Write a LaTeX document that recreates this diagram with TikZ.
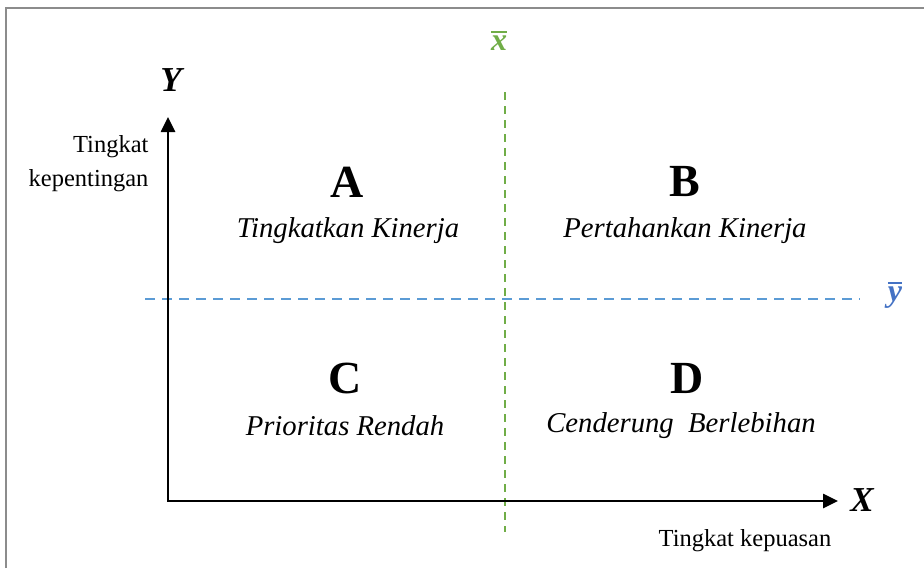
\documentclass[tikz,border=0pt]{standalone}
\usepackage{fontspec}
\setmainfont{Liberation Serif}
\usetikzlibrary{arrows.meta}
\definecolor{xgreen}{HTML}{70AD47}
\definecolor{yblue}{HTML}{5B9BD5}
\definecolor{ybluedark}{HTML}{4472C4}
\definecolor{framegray}{HTML}{8C8C8C}
\newcommand{\barred}[1]{\vbox{\hrule height 1.8pt\kern 3pt\hbox{#1}}}
\tikzset{
  quad/.style={font=\fontsize{46}{48}\selectfont\bfseries},
  quadtext/.style={font=\fontsize{28.7}{32}\selectfont\itshape},
  small/.style={font=\fontsize{24.5}{34}\selectfont},
  axislbl/.style={font=\fontsize{35}{36}\selectfont\bfseries\itshape},
  barlbl/.style={font=\fontsize{32}{34}\selectfont\bfseries\itshape, inner sep=0pt},
  axisline/.style={line width=2.6pt, line join=miter, {Triangle[length=15pt,width=14pt]}-{Triangle[length=15pt,width=14pt]}},
}
\begin{document}
\begin{tikzpicture}[x=1pt,y=-1pt]
\useasboundingbox (0,0) rectangle (924,568);
\draw[framegray, line width=1.6pt] (6,568) -- (6,8) -- (924,8);
% mean lines
\coordinate (gtop) at (505,92);
\coordinate (gbot) at (505,532);
\coordinate (bl) at (145,299);
\coordinate (br) at (860,299);
\draw[xgreen, line width=1.6pt, dash pattern=on 8pt off 6pt] (gtop) -- (gbot);
\draw[yblue, line width=1.6pt, dash pattern=on 10pt off 7pt] (bl) -- (br);
\node[barlbl, text=xgreen] (xbar) at (499,41) {\barred{x}};
\node[barlbl, text=ybluedark] (ybar) at (895,295) {\barred{y}};
% axes
\coordinate (o) at (168,501);
\coordinate (ytip) at (168,117);
\coordinate (xtip) at (838,501);
\draw[axisline] (ytip) -- (o) -- (xtip);
\node[axislbl] (ylbl) at (171,80) {Y};
\node[axislbl] (xlbl) at (862,500) {X};
\node[small, align=right, anchor=east] (ytext) at (152,164) {Tingkat\\kepentingan};
\node[small] (xtext) at (745,541) {Tingkat kepuasan};
% quadrants
\node[quad] (A) at (347,182) {A};
\node[quadtext] (At) at (348,231) {Tingkatkan Kinerja};
\node[quad] (B) at (685,182) {B};
\node[quadtext] (Bt) at (685,231) {Pertahankan Kinerja};
\node[quad] (C) at (345,378) {C};
\node[quadtext] (Ct) at (345,426) {Prioritas Rendah};
\node[quad] (D) at (687,378) {D};
\node[quadtext] (Dt) at (681,426) {Cenderung~~Berlebihan};
\end{tikzpicture}
\end{document}
